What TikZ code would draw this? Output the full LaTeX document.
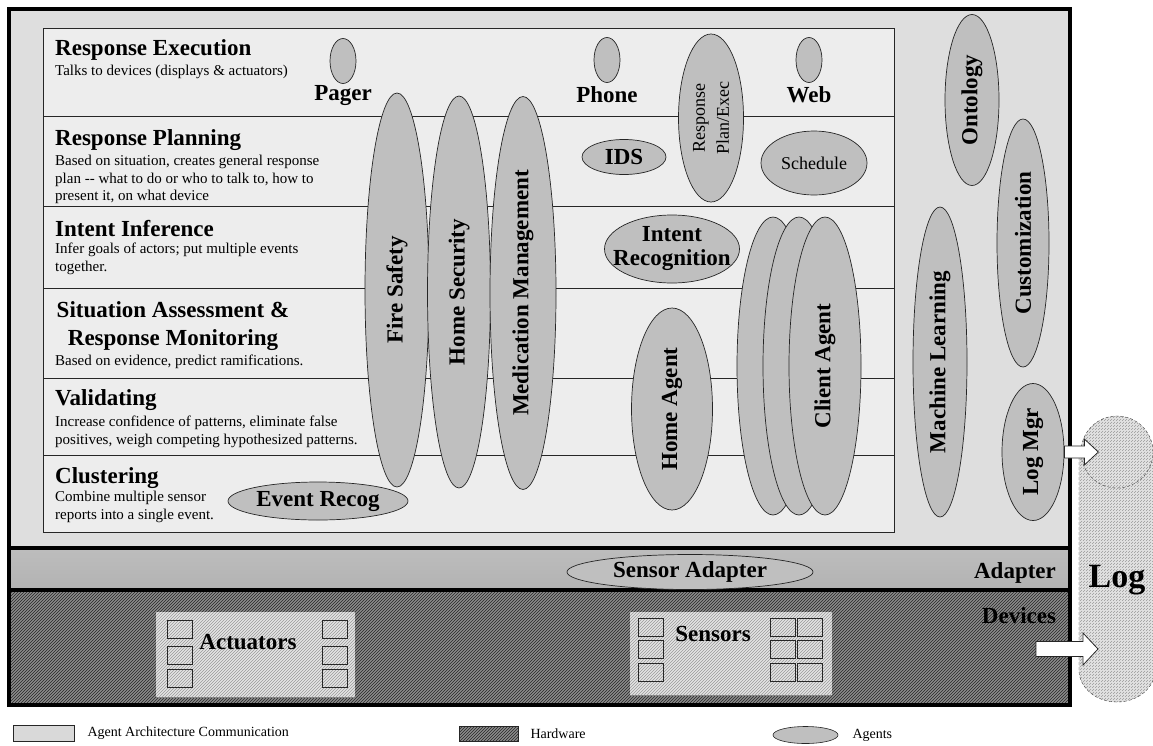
\documentclass[tikz,border=0pt]{standalone}
\usepackage{fontspec}
\setmainfont{Liberation Serif}
\usepackage{tikz}
\usetikzlibrary{positioning,shapes.geometric,patterns}

\begin{document}
\begin{tikzpicture}[x=1pt,y=-1pt,every node/.style={inner sep=0pt,node distance=35pt},
    agent/.style={ellipse,draw=black!85,line width=0.7pt,fill=black!25,align=center,
      font=\bfseries\fontsize{23}{24}\selectfont},
    reg/.style={font=\fontsize{18}{24}\selectfont},
    lbl/.style={font=\bfseries\fontsize{23}{24}\selectfont},
    ttl/.style={anchor=west,font=\bfseries\fontsize{23}{28}\selectfont},
    desc/.style={anchor=north west,align=left,font=\fontsize{15}{17.5}\selectfont},
    layer/.style={draw=black!85,line width=0.8pt,fill=black!7},
    hw/.style={preaction={fill=black!45},pattern=north east lines,pattern color=black!85},
    hwlight/.style={preaction={fill=black!10},pattern=north east lines,pattern color=black!40},
    cell/.style={draw=black!85,line width=0.7pt,minimum width=25,minimum height=18},
    blockarr/.style={draw=black!85,line width=0.8pt,fill=white},
    keytext/.style={font=\fontsize{14}{16}\selectfont}]

  \useasboundingbox (0,0) rectangle (1153,745);
  \fill[white] (0,0) rectangle (1153,745);
  \fill[black!13] (9,9) rectangle (1070,548);
  \shade[top color=black!26,middle color=black!10,bottom color=black!30] (9,548) rectangle (1070,590);
  \path[hw] (9,590) rectangle (1070,705);

  \foreach \t/\b in {28/116,116/206,206/288,288/378,378/455,455/532}
    \draw[layer] (43,\t) rectangle (894,\b);

  \node[ttl] (ttlexec) at (55,50) {Response Execution};
  \node[desc] (dscexec) at (55,65) {Talks to devices (displays \&  actuators)};
  \node[ttl] (ttlplan) at (55,140) {Response Planning};
  \node[desc] (dscplan) at (55,155) {Based on situation, creates general response\\
    plan {-}{-} what to do or who to talk to, how to\\present it, on what device};
  \node[ttl] (ttlinfer) at (55,229) {Intent Inference};
  \node[desc] (dscinfer) at (55,243) {Infer goals of actors; put multiple events\\together.};
  \node[ttl,anchor=center,align=center] (ttlsit) at (173,326) {Situation Assessment \&\\Response Monitoring};
  \node[desc] (dscsit) at (55,355) {Based on evidence, predict ramifications.};
  \node[ttl] (ttlvalid) at (55,400) {Validating};
  \node[desc] (dscvalid) at (55,416) {Increase confidence of patterns, eliminate false\\
    positives, weigh competing  hypothesized patterns.};
  \node[ttl] (ttlclust) at (55,478) {Clustering};
  \node[desc] (dscclust) at (55,491) {Combine multiple sensor\\reports into a single event.};

  \node[hwlight,minimum width=199,minimum height=85] (actbox) at (255.5,654.5) {};
  \foreach \y in {629,655,678} {
    \node[cell] (actl\y) at (179.5,\y) {};
    \node[cell] (actr\y) at (335,\y) {};
  }
  \node[lbl] (actuators) at (248,642) {Actuators};

  \node[hwlight,minimum width=202,minimum height=83] (sensbox) at (731,653.5) {};
  \foreach \y in {627,649,672} {
    \node[cell] (sensl\y) at (651,\y) {};
    \node[cell] (sensa\y) at (782.5,\y) {};
    \node[cell] (sensb\y) at (809.5,\y) {};
  }
  \node[lbl] (sensors) at (713,634) {Sensors};

  \draw[line width=4pt] (9,9) rectangle (1070,705);
  \draw[line width=3.5pt] (9,548) -- (1070,548);
  \draw[line width=3.5pt] (9,590) -- (1070,590);
  \node[lbl] (adapter) at (1015,573) {Adapter};
  \node[lbl] (devices) at (1019,616) {Devices};

  \node[agent,minimum width=26,minimum height=45] (pager) at (343,61) {};
  \node[lbl,below of=pager] (pagerlbl) {Pager};
  \node[agent,minimum width=26,minimum height=45] (phone) at (607,60) {};
  \node[lbl,below of=phone] (phonelbl) {Phone};
  \node[agent,minimum width=26,minimum height=45] (web) at (809,60) {};
  \node[lbl,below of=web] (weblbl) {Web};

  \node[agent,rotate=90,minimum width=394,minimum height=64] (fire) at (397,290) {Fire Safety};
  \node[agent,rotate=90,minimum width=392,minimum height=63] (homesec) at (459,292) {Home Security};
  \node[agent,rotate=90,minimum width=393,minimum height=66] (medic) at (523,293) {Medication Management};
  \node[agent,minimum width=180,minimum height=38] (eventrec) at (318,501) {Event Recog};

  \node[agent,reg,rotate=90,minimum width=168,minimum height=65] (planexec) at (711,118) {Response\\Plan/Exec};
  \node[agent,minimum width=84,minimum height=35] (ids) at (624,157) {IDS};
  \node[agent,reg,minimum width=106,minimum height=64] (schedule) at (814,163) {Schedule};
  \node[agent,minimum width=135,minimum height=68,inner xsep=-12pt,inner ysep=-2pt] (intentrec) at (672,249) {Intent\\Recognition};
  \node[agent,rotate=90,minimum width=202,minimum height=81] (homeagent) at (672,409) {Home Agent};

  \node[agent,rotate=90,minimum width=298,minimum height=72] (clienta) at (773,366) {};
  \node[agent,rotate=90,minimum width=298,minimum height=72] (clientb) at (799,366) {};
  \node[agent,rotate=90,minimum width=298,minimum height=72] (client) at (825,366) {Client Agent};

  \node[agent,rotate=90,minimum width=310,minimum height=54] (learning) at (940,362) {Machine Learning};
  \node[agent,rotate=90,minimum width=171,minimum height=54] (ontology) at (972,100) {Ontology};
  \node[agent,rotate=90,minimum width=248,minimum height=52] (custom) at (1023,243) {Customization};
  \node[agent,rotate=90,minimum width=137,minimum height=62] (logmgr) at (1033,452) {Log Mgr};
  \node[agent,minimum width=246,minimum height=35] (sensadapt) at (690,572) {Sensor Adapter};

  \path[hwlight,draw=black!75,densely dashed] (1079,452) -- (1079,670)
    arc[start angle=180,end angle=0,x radius=38,y radius=32] -- (1155,452);
  \node[circle,minimum size=72,hwlight,draw=black!75,densely dashed] (logtop) at (1117,452) {};
  \node[font=\bfseries\fontsize{34}{36}\selectfont] (log) at (1117,580) {Log};

  \draw[blockarr] (logmgr.south) ++(0,-6) -- ++(20,0) -- ++(0,-7) -- ++(14,13)
    -- ++(-14,13) -- ++(0,-7) -- ++(-20,0) -- cycle;
  \coordinate (devout) at (1036,649);
  \draw[blockarr] (devout) ++(0,-7.5) -- ++(47,0) -- ++(0,-8.5) -- ++(15,16)
    -- ++(-15,16) -- ++(0,-8.5) -- ++(-47,0) -- cycle;

  \node[draw=black!85,line width=0.6pt,fill=black!15,minimum width=61,minimum height=16] (keycomm) at (43.5,733.5) {};
  \node[keytext,right=13pt of keycomm] (keycommtxt) {Agent Architecture Communication};
  \node[hw,draw=black!85,line width=0.6pt,minimum width=59,minimum height=15] (keyhw) at (488.5,733.5) {};
  \node[keytext,right=12pt of keyhw] (keyhwtxt) {Hardware};
  \node[agent,line width=0.6pt,minimum width=65,minimum height=17] (keyagent) at (805.5,735) {};
  \node[keytext,right=14pt of keyagent] (keyagenttxt) {Agents};
\end{tikzpicture}
\end{document}
